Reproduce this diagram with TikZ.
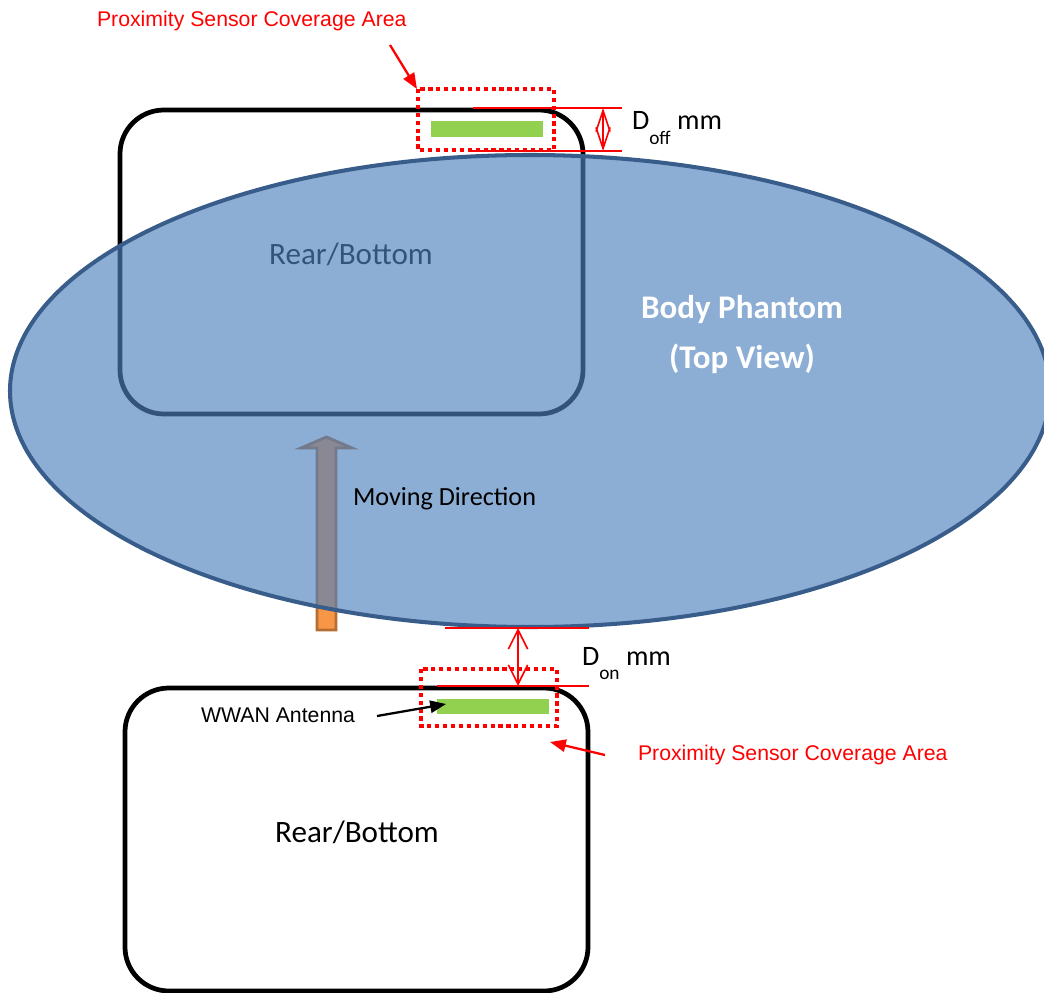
\documentclass[tikz,border=0pt]{standalone}
\usepackage{fontspec}
\setmainfont{Carlito}
\newfontfamily\arialfont{Liberation Sans}
\usetikzlibrary{arrows.meta}
\definecolor{phantomblue}{HTML}{4F81BD}
\definecolor{phantomedge}{HTML}{385D8A}
\definecolor{antgreen}{HTML}{92D050}
\definecolor{movorange}{HTML}{F79646}
\definecolor{movedge}{HTML}{B66D31}

\begin{document}
\begin{tikzpicture}
  [x=0.02cm,y=-0.02cm,
   every node/.style={inner sep=0pt,outer sep=0pt},
   device/.style={draw=black,line width=2.7pt,rounded corners=25pt},
   coverage/.style={draw=red,line width=2.3pt,dash pattern=on 2.4pt off 2.1pt},
   antenna/.style={fill=antgreen},
   redlbl/.style={text=red,anchor=base west,font=\arialfont\fontsize{12.1pt}{14pt}\selectfont},
   devlbl/.style={anchor=base,font=\fontsize{17.7pt}{20pt}\selectfont},
   dimlbl/.style={anchor=base west,font=\fontsize{16pt}{18pt}\selectfont},
   dimline/.style={draw=red,line width=1.1pt},
   dimarrow/.style={draw=red,line width=0.9pt},
   callout/.style={line width=1.3pt,-{Triangle[length=9pt,width=7pt]}}]
  \useasboundingbox (0,0) rectangle (1044,993);

  % upper device, seen through the phantom
  \draw[device] (120,110) rectangle (583,414);
  \node[devlbl] (reartop) at (351,264) {Rear/Bottom};
  \draw[draw=movedge,fill=movorange,line width=1.6pt]
    (317,630) -- (317,448) -- (301,448) -- (326.5,437) -- (352,448) -- (336,448) -- (336,630) -- cycle;

  % phantom
  \draw[fill=phantomblue,fill opacity=0.65,draw=phantomedge,line width=2.3pt]
    (530,391) ellipse [x radius=520,y radius=236];
  \node[anchor=base,text=white,font=\bfseries\fontsize{18.8pt}{22pt}\selectfont] (phantom) at (742,318) {Body Phantom};
  \node[anchor=base,text=white,font=\bfseries\fontsize{18.8pt}{22pt}\selectfont] (topview) at (742,368) {(Top View)};
  \node[anchor=base west,font=\fontsize{14.9pt}{17pt}\selectfont] (moving) at (353,505) {Moving Direction};

  % upper sensor area
  \draw[coverage] (418,89) rectangle (554,150);
  \fill[antenna] (431,121) rectangle (543,137);
  \coordinate (offtop) at (603,108);
  \coordinate (offbot) at (603,151);
  \draw[dimline] (473,108) -- (622,108);
  \draw[dimline] (470,151) -- (622,151);
  \draw[dimarrow,{Straight Barb[length=12pt,width=8pt]}-{Straight Barb[length=12pt,width=8pt]}] (offtop) -- (offbot);
  \node[dimlbl] (doff) at (632,130) {D\raisebox{-1.1ex}{\fontsize{11pt}{12pt}\selectfont o{}f{}f} mm};
  \node[redlbl] (labtop) at (97,27) {Proximity Sensor Coverage Area};
  \coordinate (labtopend) at (390,45);
  \draw[callout,red] (labtopend) -- (417,89);

  % lower device
  \draw[device] (125,688) rectangle (588,991);
  \node[devlbl] (rearbot) at (357,842) {Rear/Bottom};
  \draw[coverage] (421,669) rectangle (557,726);
  \fill[antenna] (437,699) rectangle (549,714);
  \coordinate (ontop) at (518,628);
  \coordinate (onbot) at (518,686);
  \draw[dimline] (445,628) -- (589,628);
  \draw[dimline] (437,686) -- (589,686);
  \draw[dimarrow,{Straight Barb[length=11pt,width=11pt]}-{Straight Barb[length=11pt,width=11pt]}] (ontop) -- (onbot);
  \node[dimlbl] (don) at (582,665) {D\raisebox{-1.1ex}{\fontsize{11pt}{12pt}\selectfont on} mm};
  \node[anchor=base west,font=\arialfont\fontsize{12.1pt}{14pt}\selectfont] (wwan) at (201,722) {WWAN Antenna};
  \coordinate (wwanend) at (377,716);
  \draw[callout,black] (wwanend) -- (446,704);
  \node[redlbl] (labbot) at (638,760) {Proximity Sensor Coverage Area};
  \coordinate (labbotend) at (605,755);
  \draw[callout,red] (labbotend) -- (550,742);
\end{tikzpicture}
\end{document}
